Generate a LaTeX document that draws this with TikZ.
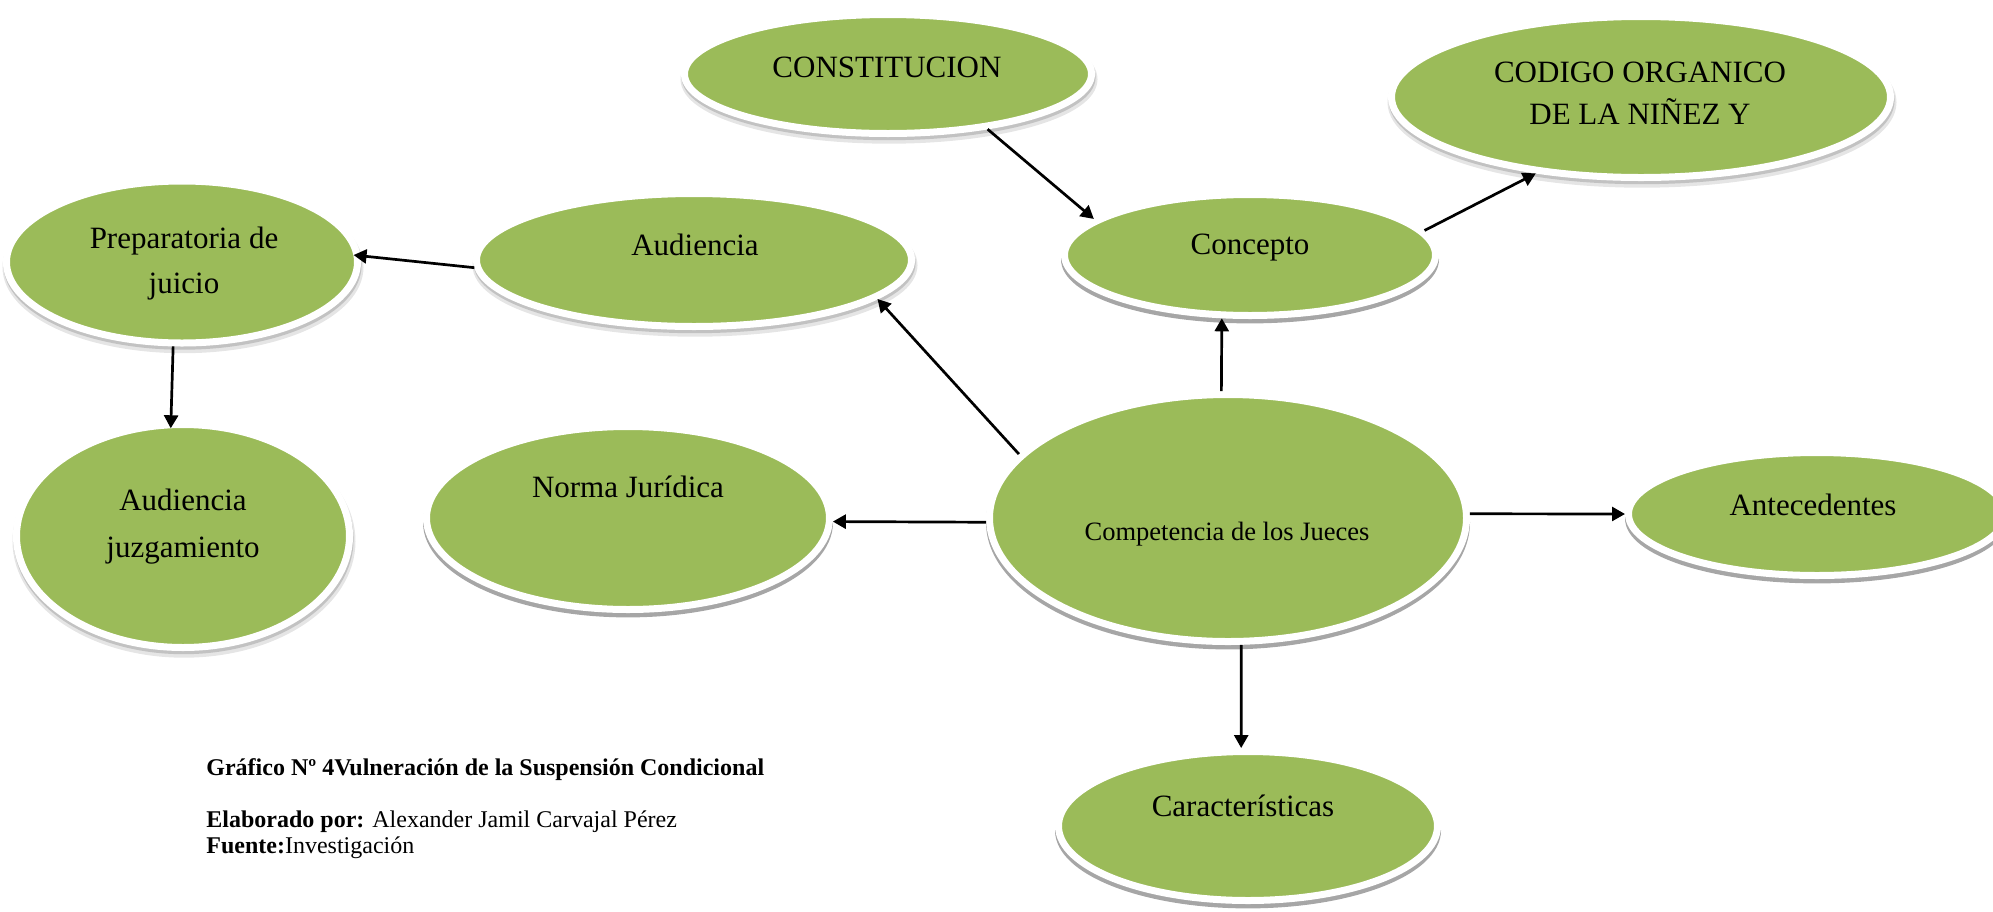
\documentclass[tikz,border=0pt]{standalone}
\usepackage{fontspec}
\setmainfont{Liberation Serif}
\usetikzlibrary{arrows.meta,shapes.geometric}
\definecolor{bubgreen}{HTML}{9BBB59}
\tikzset{
  bub/.style={ellipse, fill=bubgreen, draw=white, line width=3.5pt, inner sep=0pt},
  hardsh/.style={preaction={draw=black!35, line width=3.5pt, transform canvas={yshift=-2.2pt}}},
  softsh/.style={preaction={draw=black!10, line width=5pt, transform canvas={xshift=0.5pt,yshift=-2.6pt}},
                 preaction={draw=black!24, line width=3.5pt, transform canvas={xshift=0.3pt,yshift=-1.6pt}}},
  txt/.style={inner sep=0pt, anchor=base, align=center, font=\fontsize{15.5}{21}\selectfont},
  arr/.style={line width=1.35pt, -{Triangle[length=6.5pt,width=7pt]}},
  captxt/.style={inner sep=0pt, anchor=base west, font=\fontsize{12}{14}\selectfont}
}
\begin{document}
\begin{tikzpicture}[x=0.5pt,y=-0.5pt]
\useasboundingbox (0,0) rectangle (1993,911);
% bubbles
\node[bub,softsh,minimum width=203.5pt,minimum height=59.5pt] (cons) at (888,74) {};
\node[bub,softsh,minimum width=249.5pt,minimum height=80.5pt] (cod) at (1641,97) {};
\node[bub,hardsh,minimum width=185.5pt,minimum height=60.5pt] (conc) at (1250,255) {};
\node[bub,softsh,minimum width=217.5pt,minimum height=66.5pt] (aud) at (694,260) {};
\node[bub,softsh,minimum width=175.5pt,minimum height=81pt] (prep) at (182,262) {};
\node[bub,softsh,minimum width=166.5pt,minimum height=111.5pt] (audj) at (183,536) {};
\node[bub,hardsh,minimum width=201.5pt,minimum height=91.5pt] (norma) at (628,518) {};
\node[bub,hardsh,minimum width=238.5pt,minimum height=123.5pt] (comp) at (1228,518) {};
\node[bub,hardsh,minimum width=188.5pt,minimum height=61.5pt] (ant) at (1817,514) {};
\node[bub,hardsh,minimum width=189.5pt,minimum height=74.5pt] (car) at (1248,826) {};
% texts
\node[txt] (consT) at (887,77) {CONSTITUCION};
\node[txt] (codT) at (1640,124) {CODIGO ORGANICO\\DE LA NIÑEZ Y};
\node[txt] (concT) at (1250,254) {Concepto};
\node[txt] (audT) at (695,255) {Audiencia};
\node[txt,font=\fontsize{15.5}{22.5}\selectfont] (prepT) at (184,293) {Preparatoria de\\juicio};
\node[txt,font=\fontsize{15.5}{23.5}\selectfont] (audjT) at (183,557) {Audiencia\\juzgamiento};
\node[txt] (normaT) at (628,497) {Norma Jurídica};
\node[txt,font=\fontsize{13.25}{16}\selectfont] (compT) at (1227,540) {Competencia de los Jueces};
\node[txt] (antT) at (1813,515) {Antecedentes};
\node[txt] (carT) at (1243,816) {Características};
% connectors
\draw[arr] (comp.163) -- (aud.-12);
\draw[arr] (comp.93) -- (conc.-114);
\draw[arr] (comp.181) -- (norma.-1);
\draw[arr] (cons.-29) -- (conc.167);
\draw[arr] (conc.8) -- (cod.-144);
\draw[arr,shorten >=-3.5pt] (aud.182) -- (prep.2);
\draw[arr,shorten >=-3.5pt] (prep.-96) -- (audj.96);
\draw[arr] (comp.1) -- (ant.180);
\draw[arr] (comp.-84) -- (car.95);
% caption
\node[captxt,font=\fontsize{12}{14}\selectfont\bfseries] (cap1) at (206,775) {Gráfico Nº 4Vulneración de la Suspensión Condicional};
\node[captxt] (cap2) at (206,827) {\textbf{Elaborado por:} Alexander Jamil Carvajal Pérez};
\node[captxt] (cap3) at (206,853) {\textbf{Fuente:}Investigación};
\end{tikzpicture}
\end{document}
